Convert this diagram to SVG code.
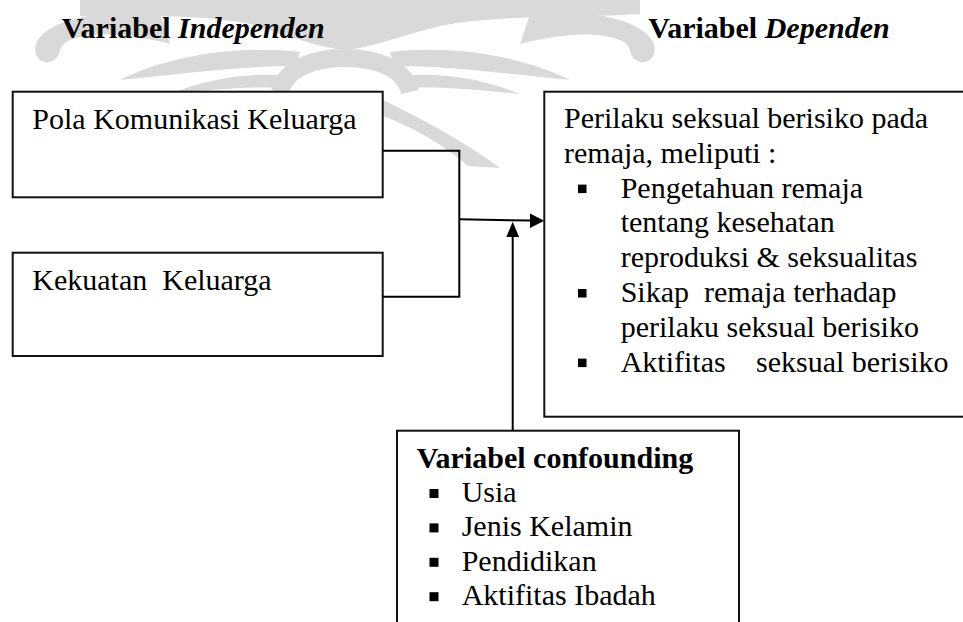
<svg xmlns="http://www.w3.org/2000/svg" width="963" height="622" viewBox="0 0 963 622">
<style>
.box{fill:#fff;stroke:#111;stroke-width:2}
.ln{fill:none;stroke:#000;stroke-width:2}
.ah{fill:#000;stroke:none}
text{font-family:'Liberation Serif','Times New Roman',serif;font-size:30px;fill:#000}
.b{font-weight:bold}
.bi{font-weight:bold;font-style:italic}
.wm{fill:#d9d9d9;stroke:none}
.bul{fill:#000}
</style>
<rect width="963" height="622" fill="#fff"/>
<g id="watermark">
<path class="wm" d="M80,0 L640,0 L640,14 C580,18 500,14 440,26 C400,36 370,48 345,50 C320,48 290,36 250,24 C190,12 130,18 80,16 Z"/>
<path class="wm" d="M160,14 C100,8 45,20 36,44 C32,58 44,66 54,60 C62,55 58,47 66,42 C90,30 130,34 170,44 Z"/>
<path class="wm" d="M530,14 C590,8 645,20 654,44 C658,58 646,66 636,60 C628,55 632,47 624,42 C600,30 560,34 520,44 Z"/>
<path class="wm" d="M120,80 C170,55 240,45 300,52 L296,66 C240,66 180,74 120,80 Z"/>
<path class="wm" d="M170,94 C210,78 250,72 290,76 L285,88 C250,86 210,90 170,94 Z"/>
<path class="wm" d="M570,80 C520,55 450,45 390,52 L394,66 C450,66 510,74 570,80 Z"/>
<path class="wm" d="M520,94 C480,78 440,72 400,76 L405,88 C440,86 480,90 520,94 Z"/>
<path d="M280,92 C285,70 310,58 345,58 C380,58 405,70 410,92" fill="none" stroke="#d9d9d9" stroke-width="18"/>
<path class="wm" d="M383,100 C420,118 462,140 500,168 L468,166 C440,142 410,126 383,116 Z"/>
</g>
<g id="connectors">
<path class="ln" d="M383,150.7 H459.3 V296.7 H383"/>
<path class="ln" d="M459.3,219.3 L531,220.6"/>
<polygon class="ah" points="530,213.5 544.3,220.8 530,228"/>
<path class="ln" d="M512.7,431 V236"/>
<polygon class="ah" points="506.3,237 519.1,237 512.7,221.7"/>
</g>
<g id="header-independen">
<text x="61.7" y="38"><tspan class="b">Variabel </tspan><tspan class="bi">Independen</tspan></text>
</g>
<g id="header-dependen">
<text x="648.3" y="37.5"><tspan class="b">Variabel </tspan><tspan class="bi">Dependen</tspan></text>
</g>
<g id="node-pola">
<rect class="box" x="12.7" y="91.7" width="370" height="105.6"/>
<text x="32.3" y="129.3">Pola Komunikasi Keluarga</text>
</g>
<g id="node-kekuatan">
<rect class="box" x="12.7" y="252.7" width="370" height="103.3"/>
<text x="32.3" y="290" xml:space="preserve">Kekuatan  Keluarga</text>
</g>
<g id="node-perilaku">
<rect class="box" x="544.3" y="91.7" width="430" height="325"/>
<text x="564" y="128">Perilaku seksual berisiko pada</text>
<text x="564" y="162.8">remaja, meliputi :</text>
<rect class="bul" x="578" y="184.6" width="8.5" height="8.5"/>
<text x="620.7" y="197.6">Pengetahuan remaja</text>
<text x="620.7" y="232.4">tentang kesehatan</text>
<text x="620.7" y="267.2">reproduksi &amp; seksualitas</text>
<rect class="bul" x="578" y="289" width="8.5" height="8.5"/>
<text x="620.7" y="302" xml:space="preserve">Sikap  remaja terhadap</text>
<text x="620.7" y="336.8">perilaku seksual berisiko</text>
<rect class="bul" x="578" y="358.6" width="8.5" height="8.5"/>
<text x="620.7" y="371.6">Aktifitas<tspan x="756">seksual berisiko</tspan></text>
</g>
<g id="node-confounding">
<rect class="box" x="397" y="430.7" width="342" height="215"/>
<text class="b" x="416.7" y="467.5">Variabel confounding</text>
<rect class="bul" x="429.5" y="489" width="9" height="9"/>
<text x="461.7" y="501.9">Usia</text>
<rect class="bul" x="429.5" y="523.4" width="9" height="9"/>
<text x="461.7" y="536.3">Jenis Kelamin</text>
<rect class="bul" x="429.5" y="557.8" width="9" height="9"/>
<text x="461.7" y="570.7">Pendidikan</text>
<rect class="bul" x="429.5" y="592.2" width="9" height="9"/>
<text x="461.7" y="605.1">Aktifitas Ibadah</text>
</g>
</svg>
